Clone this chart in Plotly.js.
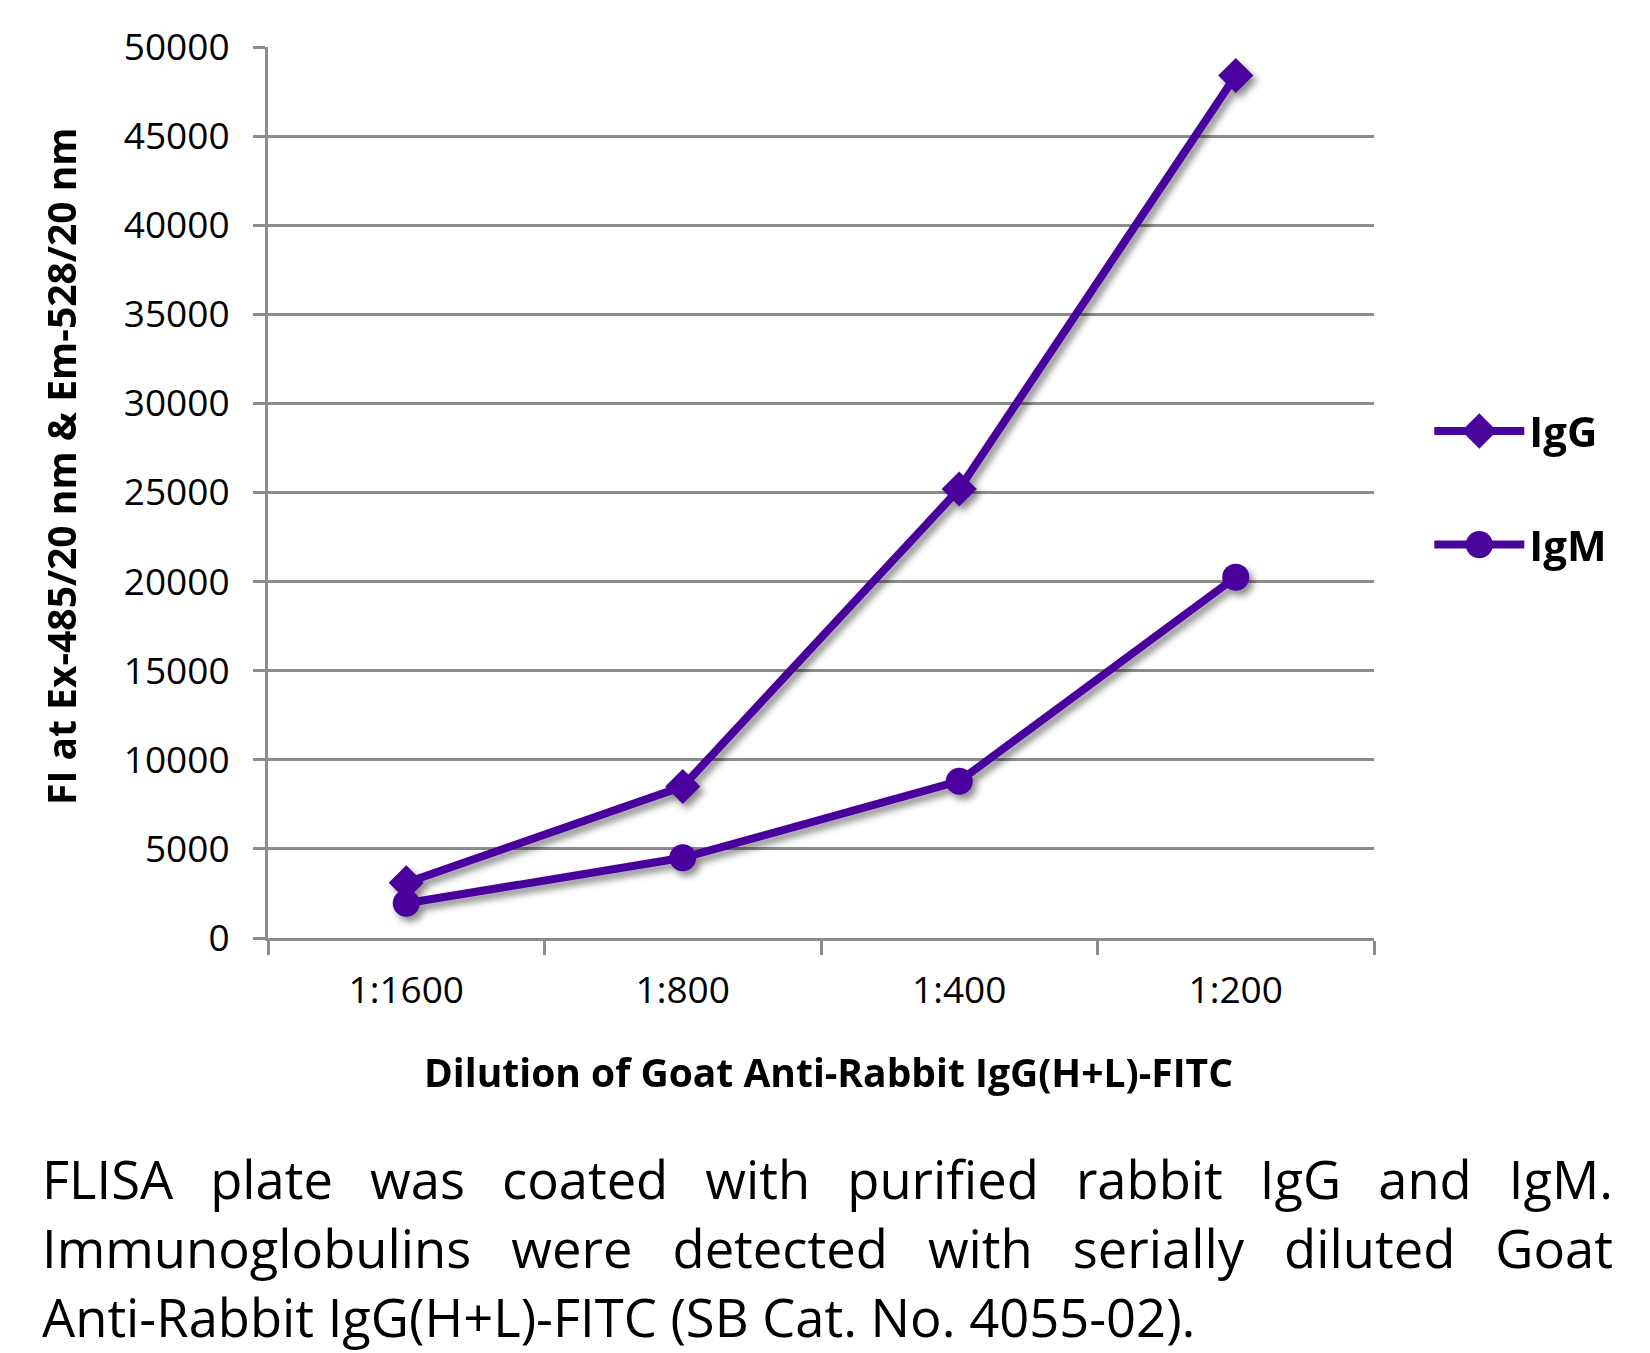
<!DOCTYPE html>
<html>
<head>
<meta charset="utf-8">
<script src="https://cdn.plot.ly/plotly-3.0.1.min.js"></script>
<style>
  html, body { margin: 0; padding: 0; background: #ffffff; }
  #wrap { position: relative; width: 1650px; height: 1353px; overflow: hidden; }
  #chart { position: absolute; left: 0; top: 0; width: 1650px; height: 1353px; }
  #caption { position: absolute; left: 42px; top: 1144px; width: 1571px;
    font-family: "Open Sans", "Noto Sans", sans-serif; font-size: 52.5px; line-height: 69px; color: #000; }
  #caption .j { text-align: justify; text-align-last: justify; white-space: nowrap; display: block; }
  #caption .l { text-align: left; display: block; white-space: nowrap; }
</style>
</head>
<body>
<div id="wrap">
  <div id="chart"></div>
  <div id="caption"></div>
</div>
<script>
// ---- data ----
const dilutions = ["1:1600", "1:800", "1:400", "1:200"];
const igG = [3100, 8500, 25200, 48400];
const igM = [1950, 4500, 8800, 20250];
const seriesNames = ["IgG", "IgM"];
const yTitle = "FI at Ex-485/20 nm & Em-528/20 nm";
const xTitle = "Dilution of Goat Anti-Rabbit IgG(H+L)-FITC";
const captionLines = [
  "FLISA plate was coated with purified rabbit IgG and IgM.",
  "Immunoglobulins were detected with serially diluted Goat",
  "Anti-Rabbit IgG(H+L)-FITC (SB Cat. No. 4055-02)."
];

const purple = "#4a069c";
const font = '"Open Sans", "Noto Sans", sans-serif';

const traces = [
  { x: dilutions, y: igG, name: seriesNames[0], type: "scatter", mode: "lines+markers",
    legendgroup: "a",
    line: { color: purple, width: 8 },
    marker: { symbol: "diamond", size: 27, color: purple } },
  { x: dilutions, y: igM, name: seriesNames[1], type: "scatter", mode: "lines+markers",
    legendgroup: "b",
    line: { color: purple, width: 8 },
    marker: { symbol: "circle", size: 27, color: purple } }
];

const layout = {
  width: 1650, height: 1353,
  margin: { l: 268, r: 276, t: 47, b: 415 },
  paper_bgcolor: "#ffffff", plot_bgcolor: "#ffffff",
  font: { family: font, color: "#000" },
  showlegend: true,
  legend: { x: 1.05, xanchor: "left", y: 0.607, yanchor: "top",
    font: { family: font, size: 42, color: "#000", weight: "bold" },
    traceorder: "grouped", tracegroupgap: 56, bgcolor: "rgba(0,0,0,0)", itemwidth: 90 },
  xaxis: {
    type: "category", range: [-0.5, 3.5], fixedrange: true,
    showgrid: false, zeroline: false,
    showline: true, linecolor: "#8c8c8c", linewidth: 3,
    ticks: "outside", tickson: "boundaries", ticklen: 14, tickwidth: 3, tickcolor: "#8c8c8c",
    tickfont: { family: font, size: 37, color: "#000" }, ticklabelstandoff: 18
  },
  yaxis: {
    range: [0, 50000], dtick: 5000, tick0: 0, tickformat: "d", fixedrange: true,
    showgrid: true, gridcolor: "#8c8c8c", gridwidth: 3, zeroline: false,
    showline: true, linecolor: "#8c8c8c", linewidth: 3,
    ticks: "outside", ticklen: 12, tickwidth: 3, tickcolor: "#8c8c8c",
    tickfont: { family: font, size: 37, color: "#000" }, ticklabelstandoff: 16
  },
  annotations: [
    { text: "<b>" + yTitle + "</b>", xref: "paper", yref: "paper", x: -0.187, y: 0.53,
      textangle: -90, showarrow: false, xanchor: "center", yanchor: "middle",
      font: { family: font, size: 39, color: "#000" } },
    { text: "<b>" + xTitle + "</b>", xref: "paper", yref: "paper", x: 0.507, y: -0.15,
      showarrow: false, xanchor: "center", yanchor: "middle",
      font: { family: font, size: 39, color: "#000" } }
  ]
};

Plotly.newPlot("chart", traces, layout, { displayModeBar: false, staticPlot: true }).then(function (gd) {
  // soft drop shadow like the original
  const svg = gd.querySelector("svg.main-svg");
  const ns = "http://www.w3.org/2000/svg";
  let defs = svg.querySelector("defs");
  if (!defs) { defs = document.createElementNS(ns, "defs"); svg.insertBefore(defs, svg.firstChild); }
  const f = document.createElementNS(ns, "filter");
  f.setAttribute("id", "dropsh");
  f.setAttribute("x", "-20%"); f.setAttribute("y", "-20%");
  f.setAttribute("width", "140%"); f.setAttribute("height", "140%");
  const ds = document.createElementNS(ns, "feDropShadow");
  ds.setAttribute("dx", "4"); ds.setAttribute("dy", "5");
  ds.setAttribute("stdDeviation", "3.5");
  ds.setAttribute("flood-color", "#000"); ds.setAttribute("flood-opacity", "0.45");
  f.appendChild(ds); defs.appendChild(f);
  gd.querySelectorAll(".scatterlayer .trace").forEach(function (t) { t.setAttribute("filter", "url(#dropsh)"); });
  // enlarge the legend symbols a little, as in the original
  gd.querySelectorAll(".legend .legendpoints path.scatterpts").forEach(function (p) {
    const tr = p.getAttribute("transform") || "";
    p.setAttribute("transform", tr + " scale(1.7)");
  });
});

const cap = document.getElementById("caption");
captionLines.forEach(function (line, i) {
  const s = document.createElement("span");
  s.className = (i < captionLines.length - 1) ? "j" : "l";
  s.textContent = line;
  cap.appendChild(s);
});
</script>
</body>
</html>
